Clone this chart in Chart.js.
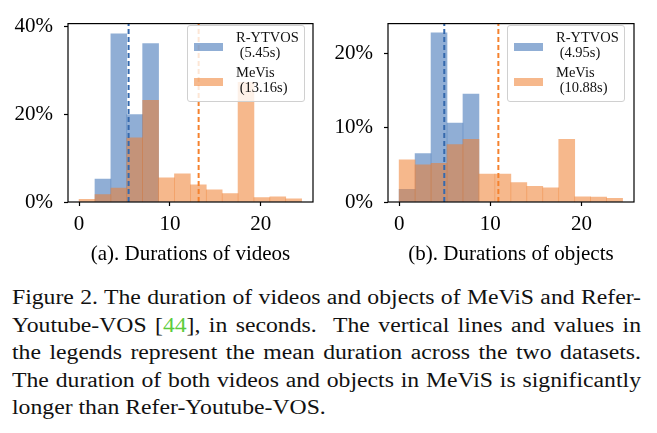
<!DOCTYPE html>
<html>
<head>
<meta charset="utf-8">
<script src="https://cdn.jsdelivr.net/npm/chart.js@4"></script>
<style>
  body { margin: 0; background: #fff; width: 657px; height: 433px; overflow: hidden; position: relative; font-family: "Liberation Serif", "DejaVu Serif", serif; }
  .panel { position: absolute; top: 0; width: 320px; height: 268px; }
  .panel canvas { position: absolute; left: 0; top: 0; }
  .legend { position: absolute; left: 187px; top: 25px; width: 118px; height: 77px; box-sizing: border-box;
            border: 1px solid #d0d0d0; border-radius: 3px; background: rgba(255,255,255,0.8); font-size: 14.5px; color: #111; }
  .legend .patch { position: absolute; left: 6px; width: 29px; height: 8px; }
  .legend .txt { position: absolute; left: 48px; line-height: 15px; white-space: pre; }
  .caption { position: absolute; left: 12px; top: 284px; width: 629px; font-size: 20.5px; line-height: 27.5px; color: #111;
             transform-origin: 0 0; }
  .caption div { white-space: nowrap; text-align: justify; text-align-last: justify; }
  .caption div.last { text-align-last: left; }
  .caption .ref { color: #5ccc3c; }
</style>
</head>
<body>
<div class="panel" style="left:0"><canvas id="chartA" width="320" height="268"></canvas><div class="legend" id="legA"></div></div>
<div class="panel" style="left:320px"><canvas id="chartB" width="320" height="268"></canvas><div class="legend" id="legB"></div></div>
<div class="caption" id="caption">
  <div>Figure 2. The duration of videos and objects of MeViS and Refer-</div>
  <div>Youtube-VOS [<span class="ref">44</span>], in seconds.&nbsp; The vertical lines and values in</div>
  <div>the legends represent the mean duration across the two datasets.</div>
  <div>The duration of both videos and objects in MeViS is significantly</div>
  <div class="last">longer than Refer-Youtube-VOS.</div>
</div>
<script>
// histogram bins (seconds), values in percent
const binCenters = [0.875, 2.625, 4.375, 6.125, 7.875, 9.625, 11.375, 13.125, 14.875, 16.625, 18.375, 20.125, 21.875, 23.625];
const xTicks = [0, 10, 20];

const videosRytvos = [0, 5.2, 38.3, 19.9, 36.1, 0, 0, 0, 0, 0, 0, 0, 0, 0];
const videosMevis  = [0.6, 1.7, 3.2, 14.6, 23.2, 5.5, 6.4, 3.9, 2.8, 1.9, 27.3, 1.0, 1.2, 0.7];
const videosMeans  = [5.45, 13.16];
const videosYTicks = [0, 20, 40];

const objectsRytvos = [1.7, 6.5, 22.7, 10.6, 14.5, 0, 0, 0, 0, 0, 0, 0, 0, 0];
const objectsMevis  = [5.65, 5.0, 5.2, 7.7, 8.4, 3.75, 3.75, 2.6, 2.1, 1.9, 8.4, 0.7, 0.65, 0.5];
const objectsMeans  = [4.95, 10.88];
const objectsYTicks = [0, 10, 20];

const seriesNames = ['R-YTVOS', 'MeVis'];
const fillColors = ['rgba(70, 120, 185, 0.6)', 'rgba(238, 125, 45, 0.55)'];
const lineColors = ['#3569ad', '#f5822e'];

const FONT = { family: '"Liberation Serif", serif', size: 21 };

// black box around the plot area, like matplotlib spines
const framePlugin = {
    id: 'frame',
    afterDatasetsDraw(chart) {
        const a = chart.chartArea, ctx = chart.ctx;
        ctx.save();
        ctx.strokeStyle = '#000';
        ctx.lineWidth = 1.2;
        ctx.strokeRect(a.left, a.top, a.right - a.left, a.bottom - a.top);
        ctx.restore();
    }
};

function makeHist(canvasId, legendId, rytvos, mevis, means, yTicks, yMax, title, rightPad) {
    const toPoints = vals => vals.map((v, i) => ({ x: binCenters[i], y: v }));
    const meanLine = (m, i) => ({
        type: 'line',
        data: [{ x: m, y: 0 }, { x: m, y: yMax }],
        borderColor: lineColors[i],
        borderWidth: 2,
        borderDash: [5, 3],
        pointRadius: 0,
        order: 0
    });

    new Chart(document.getElementById(canvasId), {
        type: 'bar',
        data: {
            datasets: [
                { label: seriesNames[0], data: toPoints(rytvos), backgroundColor: fillColors[0], borderWidth: 0,
                  barPercentage: 1, categoryPercentage: 1, grouped: false, order: 2 },
                { label: seriesNames[1], data: toPoints(mevis), backgroundColor: fillColors[1], borderWidth: 0,
                  barPercentage: 1, categoryPercentage: 1, grouped: false, order: 1 },
                meanLine(means[0], 0),
                meanLine(means[1], 1)
            ]
        },
        options: {
            responsive: false,
            animation: false,
            layout: { padding: { top: 16, right: rightPad, left: 0, bottom: 0 } },
            plugins: { legend: { display: false }, tooltip: { enabled: false } },
            scales: {
                x: {
                    type: 'linear',
                    min: -1.22, max: 25.75,
                    offset: false,
                    afterBuildTicks: s => { s.ticks = xTicks.map(v => ({ value: v })); },
                    afterFit: s => { s.height = 66; },
                    ticks: { color: '#000', font: FONT, padding: 6, maxRotation: 0 },
                    grid: { drawOnChartArea: false, offset: false, tickLength: 4, tickColor: '#000', tickWidth: 1.2 },
                    border: { display: false },
                    title: { display: true, text: title, color: '#000', font: FONT, padding: { top: 0, bottom: 1 } }
                },
                y: {
                    min: 0, max: yMax,
                    afterBuildTicks: s => { s.ticks = yTicks.map(v => ({ value: v })); },
                    afterFit: s => { s.width = 68; },
                    ticks: { color: '#000', font: FONT, padding: 11, callback: v => v + '%' },
                    grid: { drawOnChartArea: false, tickLength: 4, tickColor: '#000', tickWidth: 1.2 },
                    border: { display: false }
                }
            }
        },
        plugins: [framePlugin]
    });

    // legend drawn inside the axes, two-line labels with the mean
    const leg = document.getElementById(legendId);
    const tops = [3.5, 38.5];
    seriesNames.forEach((name, i) => {
        const patch = document.createElement('div');
        patch.className = 'patch';
        patch.style.top = (tops[i] + 13) + 'px';
        patch.style.background = fillColors[i];
        leg.appendChild(patch);
        const txt = document.createElement('div');
        txt.className = 'txt';
        txt.style.top = tops[i] + 'px';
        txt.textContent = name + '\n (' + means[i].toFixed(2) + 's)';
        leg.appendChild(txt);
    });
}

makeHist('chartA', 'legA', videosRytvos, videosMevis, videosMeans, videosYTicks, 40.66, '(a). Durations of videos', 7);
makeHist('chartB', 'legB', objectsRytvos, objectsMevis, objectsMeans, objectsYTicks, 23.95, '(b). Durations of objects', 6);

// caption: the reference type is set a bit wider, so stretch it until the widest line fills the column
(function fitCaption() {
    const cap = document.getElementById('caption');
    const lines = [...cap.children];
    let widest = 0;
    lines.forEach(d => {
        const s = document.createElement('span');
        s.innerHTML = d.innerHTML;
        s.style.whiteSpace = 'nowrap';
        s.style.visibility = 'hidden';
        s.style.position = 'absolute';
        cap.appendChild(s);
        if (!d.classList.contains('last')) widest = Math.max(widest, s.getBoundingClientRect().width);
        s.remove();
    });
    const k = 629 / (widest + 4);
    cap.style.width = (629 / k) + 'px';
    cap.style.transform = 'scaleX(' + k + ')';
})();
</script>
</body>
</html>
